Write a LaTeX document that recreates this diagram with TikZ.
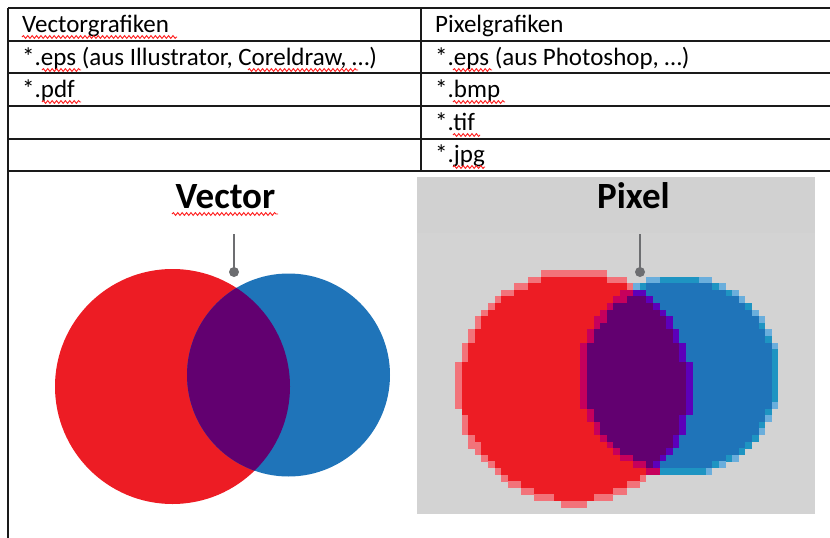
\documentclass[tikz,border=0pt]{standalone}
\usepackage{fontspec}
\setmainfont{Carlito}
\usetikzlibrary{decorations.pathmorphing}
\definecolor{vred}{HTML}{ED1C24}
\definecolor{vblue}{HTML}{1F74B9}
\definecolor{vpurple}{HTML}{620070}
\definecolor{pinkedge}{HTML}{F2737A}
\definecolor{blueedge}{HTML}{6AAEDC}
\definecolor{tealedge}{HTML}{1E94C2}
\definecolor{crimson}{HTML}{C6005C}
\definecolor{violet}{HTML}{5C00BA}
\definecolor{bggray}{HTML}{D3D3D3}
\definecolor{bgtop}{HTML}{D1D1D1}
\definecolor{leader}{HTML}{6D6E71}
\definecolor{rule}{HTML}{1A1A1A}
\tikzset{
  gridline/.style={draw=rule, line width=1.2pt},
  celltext/.style={anchor=base west, inner sep=0pt, font=\fontsize{25}{30}\selectfont},
  titletext/.style={anchor=base, inner sep=0pt, font=\fontsize{37}{44}\selectfont\bfseries},
  squiggle/.style={draw=red!90!white, line width=0.9pt, decorate,
     decoration={snake, amplitude=1.4pt, segment length=4.4pt}},
  leaderline/.style={draw=leader, line width=1.6pt},
  leaderdot/.style={fill=leader},
}
\begin{document}
\begin{tikzpicture}[x=1pt,y=-1pt]
\useasboundingbox (0,0) rectangle (830,538);
% ---------- table ----------
\foreach \yy in {8,41,73,106,139,171}{
  \draw[gridline] (8,\yy) -- (830,\yy);
}
\draw[gridline] (8,8) -- (8,538);
\draw[gridline] (421,8) -- (421,171);
% cell texts
\node[celltext] (h1) at (22,32) {Vectorgrafiken};
\node[celltext] (h2) at (435,32) {Pixelgrafiken};
\node[celltext] (l1) at (22,65) {*.eps (aus Illustrator, Coreldraw, …)};
\node[celltext] (l2) at (22,97) {*.pdf};
\node[celltext] (r1) at (435,65) {*.eps (aus Photoshop, …)};
\node[celltext] (r2) at (435,97) {*.bmp};
\node[celltext] (r3) at (435,130) {*.tif};
\node[celltext] (r4) at (435,162) {*.jpg};
% spell-check squiggles
\draw[squiggle] (22,37) -- (177,37);
\draw[squiggle] (42,70) -- (81,70);
\draw[squiggle] (248,70) -- (358,70);
\draw[squiggle] (42,102) -- (81,102);
\draw[squiggle] (453,70) -- (492,70);
\draw[squiggle] (453,102) -- (505,102);
\draw[squiggle] (453,135) -- (480,135);
\draw[squiggle] (453,167) -- (485,167);
% ---------- vector venn ----------
\fill[vred] (172.5,386.5) circle[radius=117.5];
\fill[vblue] (288.5,375) circle[radius=101.5];
\begin{scope}
  \clip (172.5,386.5) circle[radius=117.5];
  \fill[vpurple] (288.5,375) circle[radius=101.5];
\end{scope}
\node[titletext] (vtitle) at (225.5,208) {Vector};
\draw[squiggle] (172,214) -- (278,214);
\coordinate (vtop) at (234,234);
\coordinate (vdot) at (234,272);
\draw[leaderline] (vtop) -- (vdot);
\fill[leaderdot] (vdot) circle[radius=5];
% ---------- pixel venn ----------
\fill[bggray] (417,177) rectangle (815,514);
\fill[bgtop] (417,177) rectangle (815,233);
\def\p{6.6}
\foreach \j in {0,...,36}{
  \pgfmathsetmacro\yt{270+\j*\p}
  \pgfmathsetmacro\yb{\yt+\p+0.4}
  \pgfmathsetmacro\dr{(\yt+\p/2-387)/10}
  \pgfmathsetmacro\db{(\yt+\p/2-376)/10}
  \pgfmathsetmacro\hro{10*sqrt(max(0,139.24-\dr*\dr))}
  \pgfmathsetmacro\hrm{10*sqrt(max(0,125.44-\dr*\dr))}
  \pgfmathsetmacro\hbo{10*sqrt(max(0,102.01-\db*\db))}
  \pgfmathsetmacro\hbt{10*sqrt(max(0,96.04-\db*\db))}
  \pgfmathsetmacro\hbm{10*sqrt(max(0,90.25-\db*\db))}
  \pgfmathsetmacro\rol{455+round((574-\hro-455)/\p)*\p}
  \pgfmathsetmacro\ror{455+round((574+\hro-455)/\p)*\p}
  \pgfmathsetmacro\rml{455+round((574-\hrm-455)/\p)*\p}
  \pgfmathsetmacro\rmr{455+round((574+\hrm-455)/\p)*\p}
  \pgfmathsetmacro\bol{455+round((680-\hbo-455)/\p)*\p}
  \pgfmathsetmacro\bor{455+round((680+\hbo-455)/\p)*\p}
  \pgfmathsetmacro\btl{455+round((680-\hbt-455)/\p)*\p}
  \pgfmathsetmacro\btr{455+round((680+\hbt-455)/\p)*\p}
  \pgfmathsetmacro\bml{455+round((680-\hbm-455)/\p)*\p}
  \pgfmathsetmacro\bmr{455+round((680+\hbm-455)/\p)*\p}
  \ifdim\rol pt<\ror pt \fill[pinkedge] (\rol,\yt) rectangle (\ror,\yb); \fi
  \ifdim\rml pt<\rmr pt \fill[vred] (\rml,\yt) rectangle (\rmr,\yb); \fi
  \ifdim\bol pt<\bor pt \fill[blueedge] (\bol,\yt) rectangle (\bor,\yb); \fi
  \ifdim\btl pt<\btr pt \fill[tealedge] (\btl,\yt) rectangle (\btr,\yb); \fi
  \ifdim\bml pt<\bmr pt \fill[vblue] (\bml,\yt) rectangle (\bmr,\yb); \fi
  % lens
  \pgfmathsetmacro\ll{max(\rol,\bol)}
  \pgfmathsetmacro\lr{min(\ror,\bor)}
  \ifdim\rol pt<\ror pt \ifdim\bol pt<\bor pt \ifdim\ll pt<\lr pt
    \fill[crimson] (\ll,\yt) rectangle (\lr,\yb);
    \pgfmathsetmacro\vl{max(\ll,\bml)}
    \ifdim\vl pt<\lr pt \fill[violet] (\vl,\yt) rectangle (\lr,\yb); \fi
    \ifdim\rml pt<\rmr pt \ifdim\bml pt<\bmr pt
      \pgfmathsetmacro\ml{max(\rml,\bml)}
      \pgfmathsetmacro\mr{min(\rmr,\bmr)}
      \ifdim\ml pt<\mr pt \fill[vpurple] (\ml,\yt) rectangle (\mr,\yb); \fi
    \fi\fi
  \fi\fi\fi
}
\node[titletext] (ptitle) at (633.5,208) {Pixel};
\coordinate (ptop) at (640,234);
\coordinate (pdot) at (640,272);
\draw[leaderline] (ptop) -- (pdot);
\fill[leaderdot] (pdot) circle[radius=5];
\end{tikzpicture}
\end{document}
